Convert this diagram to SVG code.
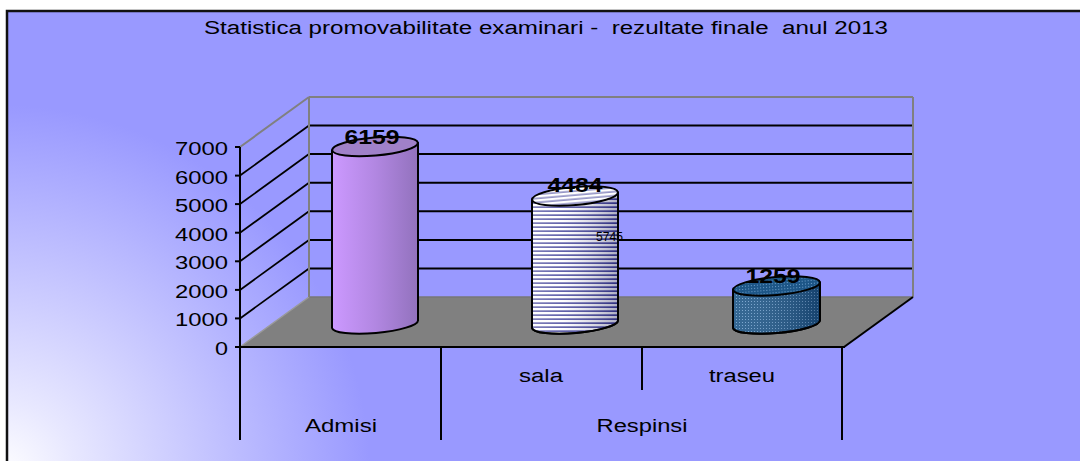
<svg xmlns="http://www.w3.org/2000/svg" width="1080" height="461" viewBox="0 0 1080 461">
<defs>
<radialGradient id="bgGlow" gradientUnits="userSpaceOnUse" cx="0" cy="475" r="370">
<stop offset="0" stop-color="#ffffff"/>
<stop offset="0.2" stop-color="#e8e8ff"/>
<stop offset="1" stop-color="#9999ff"/>
</radialGradient>
<linearGradient id="purple" x1="0" y1="0" x2="1" y2="0">
<stop offset="0" stop-color="#cc99ff"/>
<stop offset="0.5" stop-color="#b287e2"/>
<stop offset="1" stop-color="#9272bd"/>
</linearGradient>
<pattern id="stripes" patternUnits="userSpaceOnUse" width="8" height="4">
<rect width="8" height="4" fill="#ffffff"/>
<rect y="2.3" width="8" height="1.7" fill="#3c3c96"/>
</pattern>
<linearGradient id="shadeB" x1="0" y1="0" x2="1" y2="0">
<stop offset="0" stop-color="#ffffff" stop-opacity="0.35"/>
<stop offset="0.35" stop-color="#ffffff" stop-opacity="0.2"/>
<stop offset="1" stop-color="#101050" stop-opacity="0.35"/>
</linearGradient>
<pattern id="dots" patternUnits="userSpaceOnUse" width="3" height="3">
<rect width="3" height="3" fill="#1d5687"/>
<rect x="1" y="1" width="1" height="1" fill="#6f9fcc"/>
</pattern>
<linearGradient id="shadeC" x1="0" y1="0" x2="1" y2="0">
<stop offset="0" stop-color="#ffffff" stop-opacity="0.1"/>
<stop offset="1" stop-color="#001030" stop-opacity="0.3"/>
</linearGradient>
<style>
.t{font-family:"Liberation Sans",Arial,sans-serif;fill:#000;white-space:pre}
.ax{font-size:18px;text-anchor:end}
.cat{font-size:18px;text-anchor:middle}
.val{font-size:20px;font-weight:bold;text-anchor:middle}
.grid{stroke:#000;stroke-width:2;fill:none}
.wall{stroke:#808080;stroke-width:2;fill:none}
.axis{stroke:#000;stroke-width:2;fill:none}
.cyl{stroke:#000;stroke-width:2;stroke-linejoin:round}
</style>
</defs>

<rect width="1080" height="461" fill="#ffffff"/>
<g id="frame">
<rect x="7" y="11" width="1090" height="470" fill="#9999ff"/>
<rect x="7" y="11" width="1090" height="470" fill="url(#bgGlow)"/>
<rect x="7" y="11" width="1090" height="470" fill="none" stroke="#111" stroke-width="2.5"/>
</g>

<g id="title">
<text class="t" x="546" y="34" font-size="18" text-anchor="middle" textLength="684" lengthAdjust="spacingAndGlyphs">Statistica promovabilitate examinari -  rezultate finale  anul 2013</text>
</g>

<g id="plot-area">
<polygon points="240,347 309,297 913,297 844,347" fill="#808080"/>
<line x1="309" y1="297" x2="913" y2="297" stroke="#777" stroke-width="1.5"/>
<line x1="240" y1="347" x2="309" y2="297" stroke="#9a9a9a" stroke-width="1.5"/>
<g class="grid">
<line x1="309" y1="268.4" x2="913" y2="268.4"/>
<line x1="309" y1="239.9" x2="913" y2="239.9"/>
<line x1="309" y1="211.3" x2="913" y2="211.3"/>
<line x1="309" y1="182.7" x2="913" y2="182.7"/>
<line x1="309" y1="154.1" x2="913" y2="154.1"/>
<line x1="309" y1="125.6" x2="913" y2="125.6"/>
</g>
<g stroke="#000" stroke-width="1.8">
<line x1="240" y1="318.4" x2="309" y2="268.4"/>
<line x1="240" y1="289.9" x2="309" y2="239.9"/>
<line x1="240" y1="261.3" x2="309" y2="211.3"/>
<line x1="240" y1="232.7" x2="309" y2="182.7"/>
<line x1="240" y1="204.1" x2="309" y2="154.1"/>
<line x1="240" y1="175.6" x2="309" y2="125.6"/>
</g>
<g class="wall">
<line x1="240" y1="147" x2="309" y2="97"/>
<line x1="309" y1="97" x2="913" y2="97"/>
<line x1="309" y1="97" x2="309" y2="297"/>
<line x1="913" y1="97" x2="913" y2="297"/>
</g>
<line x1="913" y1="297" x2="844" y2="347" class="axis"/>
</g>

<g id="axes">
<line x1="240" y1="147" x2="240" y2="440" class="axis"/>
<line x1="239" y1="347" x2="845" y2="347" class="axis"/>
<g class="axis">
<line x1="235" y1="147" x2="240" y2="147"/>
<line x1="235" y1="175.6" x2="240" y2="175.6"/>
<line x1="235" y1="204.1" x2="240" y2="204.1"/>
<line x1="235" y1="232.7" x2="240" y2="232.7"/>
<line x1="235" y1="261.3" x2="240" y2="261.3"/>
<line x1="235" y1="289.9" x2="240" y2="289.9"/>
<line x1="235" y1="318.4" x2="240" y2="318.4"/>
<line x1="235" y1="347" x2="240" y2="347"/>
<line x1="441" y1="347" x2="441" y2="440"/>
<line x1="642" y1="347" x2="642" y2="390"/>
<line x1="842" y1="347" x2="842" y2="440"/>
</g>
<text class="t ax" x="228" y="155" textLength="53" lengthAdjust="spacingAndGlyphs">7000</text>
<text class="t ax" x="228" y="183.6" textLength="53" lengthAdjust="spacingAndGlyphs">6000</text>
<text class="t ax" x="228" y="212.1" textLength="53" lengthAdjust="spacingAndGlyphs">5000</text>
<text class="t ax" x="228" y="240.7" textLength="53" lengthAdjust="spacingAndGlyphs">4000</text>
<text class="t ax" x="228" y="269.3" textLength="53" lengthAdjust="spacingAndGlyphs">3000</text>
<text class="t ax" x="228" y="297.9" textLength="53" lengthAdjust="spacingAndGlyphs">2000</text>
<text class="t ax" x="228" y="326.4" textLength="53" lengthAdjust="spacingAndGlyphs">1000</text>
<text class="t ax" x="228" y="355" textLength="13" lengthAdjust="spacingAndGlyphs">0</text>
<text class="t cat" x="541" y="382" textLength="44" lengthAdjust="spacingAndGlyphs">sala</text>
<text class="t cat" x="742" y="382" textLength="66" lengthAdjust="spacingAndGlyphs">traseu</text>
<text class="t cat" x="341" y="432" textLength="72" lengthAdjust="spacingAndGlyphs">Admisi</text>
<text class="t cat" x="642" y="432" textLength="91" lengthAdjust="spacingAndGlyphs">Respinsi</text>
</g>

<g id="bar-admisi">
<path class="cyl" fill="url(#purple)" d="M332,150.3 L332,327.8 A43,9 -5 0 0 418,320.2 L418,142.7 Z"/>
<ellipse cx="375" cy="146.5" rx="43" ry="9" transform="rotate(-5 375 146.5)" fill="#a081c9" class="cyl"/>
<text class="t val" x="372" y="144" textLength="55" lengthAdjust="spacingAndGlyphs">6159</text>
</g>

<g id="bar-sala">
<path class="cyl" fill="url(#stripes)" d="M532,199.8 L532,327.8 A43,9 -5 0 0 618,320.2 L618,192.2 Z"/>
<path fill="url(#shadeB)" d="M532,199.8 L532,327.8 A43,9 -5 0 0 618,320.2 L618,192.2 Z"/>
<path fill="none" class="cyl" d="M532,199.8 L532,327.8 A43,9 -5 0 0 618,320.2 L618,192.2"/>
<ellipse cx="575" cy="196" rx="43" ry="9" transform="rotate(-5 575 196)" fill="url(#stripes)" class="cyl"/>
<ellipse cx="575" cy="196" rx="42" ry="8" transform="rotate(-5 575 196)" fill="#ffffff" fill-opacity="0.45"/>
<text class="t val" x="575" y="192" textLength="55" lengthAdjust="spacingAndGlyphs">4484</text>
<text class="t" x="596" y="241" font-size="12" fill="#333" textLength="27" lengthAdjust="spacingAndGlyphs">5745</text>
</g>

<g id="bar-traseu">
<path class="cyl" fill="url(#dots)" d="M733,289.8 L733,327.8 A43.5,9 -5 0 0 820,320.2 L820,282.2 Z"/>
<path fill="url(#shadeC)" d="M733,289.8 L733,327.8 A43.5,9 -5 0 0 820,320.2 L820,282.2 Z"/>
<path fill="none" class="cyl" d="M733,289.8 L733,327.8 A43.5,9 -5 0 0 820,320.2 L820,282.2"/>
<ellipse cx="776.5" cy="286" rx="43.5" ry="9" transform="rotate(-5 776.5 286)" fill="url(#dots)" class="cyl"/>
<text class="t val" x="773" y="283" textLength="55" lengthAdjust="spacingAndGlyphs">1259</text>
</g>
</svg>
